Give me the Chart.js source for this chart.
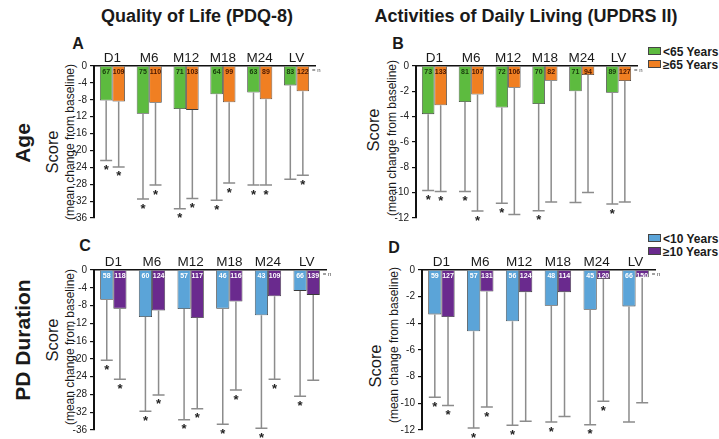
<!DOCTYPE html>
<html>
<head>
<meta charset="utf-8">
<script src="https://cdn.jsdelivr.net/npm/chart.js@4"></script>
<style>
  body { margin: 0; background: #fff; font-family: "Liberation Sans", Arial, sans-serif; }
  #wrap { position: relative; width: 719px; height: 439px; overflow: hidden; }
  canvas { position: absolute; }
  .txt { position: absolute; white-space: nowrap; color: #1a1a1a; }
  .rot { transform: translate(-50%, -50%) rotate(-90deg); }
  .ctr { transform: translate(-50%, -50%); }
  .leg { position: absolute; font-weight: bold; font-size: 12px; color: #1a1a1a; white-space: nowrap; }
  .leg span.box { display: inline-block; width: 11px; height: 6px; border: 1px solid #444; margin-right: 2px; vertical-align: 1px; }
</style>
</head>
<body>
<div id="wrap">
  <div class="txt ctr" style="left:197px;top:16px;font-weight:bold;font-size:18px;">Quality of Life (PDQ-8)</div>
  <div class="txt ctr" style="left:526px;top:16px;font-weight:bold;font-size:18px;">Activities of Daily Living (UPDRS II)</div>

  <div class="txt rot" style="left:23px;top:143px;font-weight:bold;font-size:21px;">Age</div>
  <div class="txt rot" style="left:23px;top:340px;font-weight:bold;font-size:21px;">PD Duration</div>

  <div class="txt ctr" style="left:78px;top:44px;font-weight:bold;font-size:16px;">A</div>
  <div class="txt ctr" style="left:398px;top:44px;font-weight:bold;font-size:16px;">B</div>
  <div class="txt ctr" style="left:85px;top:246px;font-weight:bold;font-size:16px;">C</div>
  <div class="txt ctr" style="left:394px;top:248px;font-weight:bold;font-size:16px;">D</div>

  <div class="txt rot" style="left:52px;top:152px;font-size:16.5px;">Score</div>
  <div class="txt rot" style="left:70px;top:142px;font-size:12px;">(mean change from baseline)</div>
  <div class="txt rot" style="left:373px;top:130px;font-size:16.5px;">Score</div>
  <div class="txt rot" style="left:392px;top:138px;font-size:12px;">(mean change from baseline)</div>
  <div class="txt rot" style="left:52px;top:340px;font-size:16.5px;">Score</div>
  <div class="txt rot" style="left:70px;top:347px;font-size:12px;">(mean change from baseline)</div>
  <div class="txt rot" style="left:375px;top:366px;font-size:16.5px;">Score</div>
  <div class="txt rot" style="left:394px;top:345px;font-size:12px;">(mean change from baseline)</div>

  <div class="leg" style="left:648px;top:45px;"><span class="box" style="background:#5dbb3f"></span>&lt;65 Years</div>
  <div class="leg" style="left:648px;top:58px;"><span class="box" style="background:#f07f22"></span>≥65 Years</div>
  <div class="leg" style="left:648px;top:232px;"><span class="box" style="background:#5ba4d8"></span>&lt;10 Years</div>
  <div class="leg" style="left:648px;top:245px;"><span class="box" style="background:#6a2a8e"></span>≥10 Years</div>

  <canvas id="chartA" width="270" height="200" style="left:60px;top:30px;"></canvas>
  <canvas id="chartB" width="274" height="200" style="left:376px;top:30px;"></canvas>
  <canvas id="chartC" width="280" height="209" style="left:60px;top:230px;"></canvas>
  <canvas id="chartD" width="290" height="209" style="left:380px;top:230px;"></canvas>
</div>
<script>
const categories = ['D1', 'M6', 'M12', 'M18', 'M24', 'LV'];

// A: PDQ-8 by age
const qolYoung = [-8.2, -11.3, -10.2, -6.7, -6.3, -4.6];
const qolYoungLow = [-22.4, -31.5, -33.8, -31.8, -28.2, -26.8];
const qolYoungN = [67, 75, 71, 64, 63, 83];
const qolYoungStar = [1, 1, 1, 1, 1, 0];
const qolOld = [-8.4, -8.7, -10.4, -8.6, -7.9, -6.0];
const qolOldLow = [-23.9, -28.2, -31.4, -27.7, -28.2, -25.9];
const qolOldN = [109, 110, 103, 99, 89, 122];
const qolOldStar = [1, 1, 1, 1, 1, 1];

// B: UPDRS II by age
const adlYoung = [-3.8, -2.85, -3.28, -3.0, -2.0, -2.11];
const adlYoungLow = [-9.83, -9.9, -10.84, -11.42, -10.78, -10.89];
const adlYoungN = [73, 81, 72, 70, 71, 89];
const adlYoungStar = [1, 1, 1, 1, 0, 1];
const adlOld = [-3.1, -2.25, -1.72, -1.16, -0.71, -1.19];
const adlOldLow = [-9.9, -11.45, -11.73, -10.73, -9.99, -10.73];
const adlOldN = [133, 107, 106, 82, 94, 127];
const adlOldStar = [1, 1, 0, 0, 0, 0];

// C: PDQ-8 by PD duration
const qolShort = [-6.7, -10.6, -8.8, -8.7, -10.2, -4.7];
const qolShortLow = [-20.3, -31.8, -33.7, -34.7, -35.6, -28.4];
const qolShortN = [58, 60, 57, 46, 43, 66];
const qolShortStar = [1, 1, 1, 1, 1, 1];
const qolLong = [-8.7, -9.1, -10.8, -7.1, -5.9, -5.6];
const qolLongLow = [-24.6, -28.1, -31.2, -27.0, -24.6, -24.8];
const qolLongN = [118, 124, 117, 116, 109, 139];
const qolLongStar = [1, 1, 1, 1, 1, 0];

// D: UPDRS II by PD duration
const adlShort = [-3.33, -4.6, -3.85, -2.68, -2.98, -2.73];
const adlShortLow = [-9.54, -11.85, -11.65, -11.4, -11.6, -11.4];
const adlShortN = [59, 57, 56, 48, 45, 66];
const adlShortStar = [1, 1, 1, 1, 1, 0];
const adlLong = [-3.53, -1.61, -1.66, -1.66, -0.67, -0.55];
const adlLongLow = [-10.16, -10.28, -11.35, -10.98, -9.84, -9.96];
const adlLongN = [127, 131, 124, 114, 120, 150];
const adlLongStar = [1, 1, 0, 0, 1, 0];

const green = '#5dbb3f', orange = '#f07f22', blue = '#5ba4d8', purple = '#6a2a8e';

// draws whisker down to the low value, asterisk, and n label in each bar
const extrasPlugin = {
  id: 'extras',
  afterDraw(chart) {
    const ctx = chart.ctx;
    const y = chart.scales.y;
    const zeroY = y.getPixelForValue(0);
    let lastRight = 0;
    chart.data.datasets.forEach((ds, di) => {
      const meta = chart.getDatasetMeta(di);
      meta.data.forEach((bar, i) => {
        const x = bar.x;
        const lowY = y.getPixelForValue(ds.low[i]);
        ctx.save();
        ctx.strokeStyle = '#8c8c8c';
        ctx.lineWidth = 1.5;
        ctx.beginPath();
        ctx.moveTo(x, bar.y);
        ctx.lineTo(x, lowY);
        ctx.moveTo(x - 6, lowY);
        ctx.lineTo(x + 6, lowY);
        ctx.stroke();
        if (ds.star[i]) {
          ctx.fillStyle = '#222';
          ctx.font = 'bold 13px "Liberation Sans", Arial';
          ctx.textAlign = 'center';
          ctx.textBaseline = 'middle';
          ctx.fillText('*', x, lowY + 10);
        }
        ctx.fillStyle = ds.nColor;
        ctx.font = 'bold 7px "Liberation Sans", Arial';
        ctx.textAlign = 'center';
        ctx.textBaseline = 'middle';
        ctx.fillText(ds.n[i], x, zeroY + 6);
        ctx.restore();
        lastRight = Math.max(lastRight, x + bar.width / 2);
      });
    });
    ctx.save();
    ctx.fillStyle = '#444';
    ctx.font = '6px "Liberation Sans", Arial';
    ctx.textBaseline = 'middle';
    ctx.fillText('= n', lastRight + 3, zeroY + 4);
    ctx.restore();
  }
};

function makePanel(id, sets, yMin, step, yW, xH, padR, padB) {
  return new Chart(document.getElementById(id), {
    type: 'bar',
    data: {
      labels: categories,
      datasets: sets.map(s => ({
        data: s.data,
        low: s.low,
        star: s.star,
        n: s.n,
        nColor: s.nColor,
        backgroundColor: s.color,
        borderColor: '#3a3a3a',
        borderWidth: 0.8,
        categoryPercentage: 0.68,
        barPercentage: 1.0
      }))
    },
    options: {
      responsive: false,
      animation: false,
      layout: { padding: { left: 0, top: 0, right: padR, bottom: padB } },
      plugins: { legend: { display: false }, tooltip: { enabled: false } },
      scales: {
        x: {
          position: 'top',
          grid: { display: false, tickLength: 0 },
          border: { color: '#111', width: 1.5 },
          ticks: { color: '#1a1a1a', padding: 0, font: { size: 13.5, family: '"Liberation Sans", Arial' } },
          afterFit(scale) { scale.height = xH; }
        },
        y: {
          min: yMin,
          max: 0,
          grid: { drawOnChartArea: false, drawTicks: true, tickLength: 4, color: '#111', lineWidth: 1.2 },
          border: { color: '#111', width: 2 },
          ticks: { stepSize: step, color: '#222', padding: 3, font: { size: 10, family: '"Liberation Sans", Arial' } },
          afterFit(scale) { scale.width = yW; }
        }
      }
    },
    plugins: [extrasPlugin]
  });
}

makePanel('chartA', [
  { data: qolYoung, low: qolYoungLow, star: qolYoungStar, n: qolYoungN, color: green, nColor: '#173a0c' },
  { data: qolOld, low: qolOldLow, star: qolOldStar, n: qolOldN, color: orange, nColor: '#4a1800' }
], -36, 4, 34, 36, 15, 12);

makePanel('chartB', [
  { data: adlYoung, low: adlYoungLow, star: adlYoungStar, n: adlYoungN, color: green, nColor: '#173a0c' },
  { data: adlOld, low: adlOldLow, star: adlOldStar, n: adlOldN, color: orange, nColor: '#4a1800' }
], -12, 2, 40, 36, 13, 12);

makePanel('chartC', [
  { data: qolShort, low: qolShortLow, star: qolShortStar, n: qolShortN, color: blue, nColor: '#ffffff' },
  { data: qolLong, low: qolLongLow, star: qolLongStar, n: qolLongN, color: purple, nColor: '#ffffff' }
], -36, 4, 34, 40, 14, 7);

makePanel('chartD', [
  { data: adlShort, low: adlShortLow, star: adlShortStar, n: adlShortN, color: blue, nColor: '#ffffff' },
  { data: adlLong, low: adlLongLow, star: adlLongStar, n: adlLongN, color: purple, nColor: '#ffffff' }
], -12, 2, 42, 40, 15, 8);
</script>
</body>
</html>
